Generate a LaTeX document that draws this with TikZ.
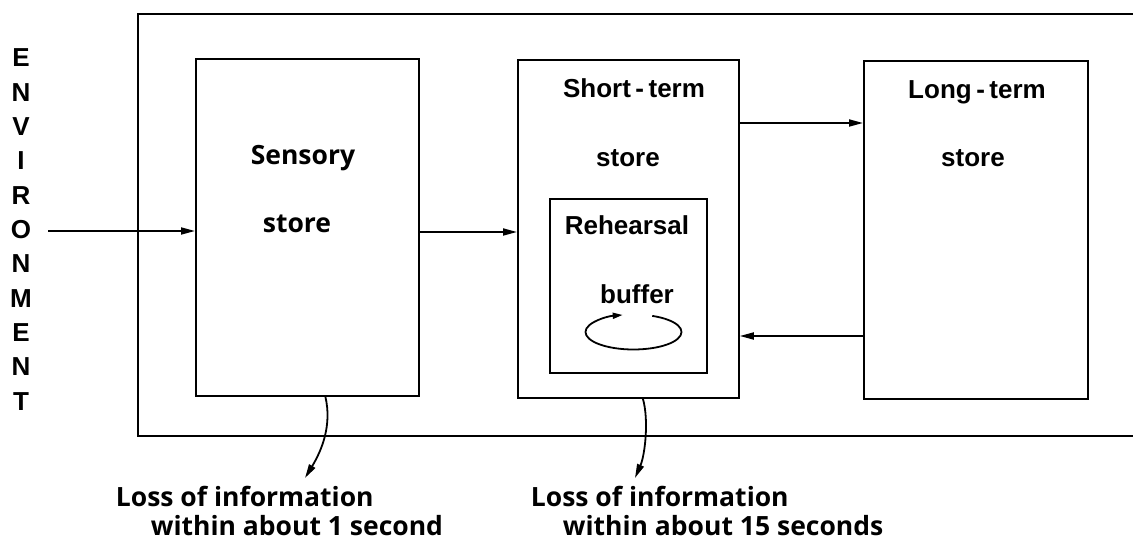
\documentclass[tikz,border=0pt]{standalone}
\usepackage{fontspec}
\setmainfont{Liberation Sans}
\newfontfamily\humfont{Open Sans}
\usetikzlibrary{arrows.meta,calc}
\newcommand{\hy}{\hspace{4.5bp}-\hspace{4.5bp}}

\begin{document}
\begin{tikzpicture}[x=1bp,y=-1bp,line width=1.8bp,
  store/.style={draw,rectangle,inner sep=0pt,anchor=north west},
  arr/.style={-{Triangle[length=14bp,width=7bp]}},
  loop/.style={-{Triangle[length=10bp,width=6bp]}},
  hlabel/.style={font=\fontsize{26bp}{30bp}\selectfont\bfseries,inner sep=0pt,anchor=base},
  slabel/.style={font=\humfont\fontsize{26.5bp}{30bp}\selectfont\bfseries,inner sep=0pt,anchor=base},
  envl/.style={font=\fontsize{26bp}{30bp}\selectfont\bfseries,inner sep=0pt,anchor=base}]
\useasboundingbox (0,0) rectangle (1133,544);

% frame open to the right
\draw (1133,14) -- (138,14) -- (138,436) -- (1133,436);

% stores
\node[store,minimum width=223bp,minimum height=337bp] (sens) at (195,58) {};
\node[store,minimum width=221bp,minimum height=338bp] (sts) at (517,59) {};
\node[store,minimum width=224bp,minimum height=338bp] (lts) at (863,60) {};
\node[store,minimum width=157bp,minimum height=174bp] (reh) at (549,198) {};

% labels
\node[slabel] (senst) at (303,165) {Sensory};
\node[slabel] (sensb) at (297,233) {store};
\node[hlabel] (stst) at (634,98) {Short\hy term};
\node[hlabel] (stsb) at (628,167) {store};
\node[hlabel] (reht) at (627,235) {Rehearsal};
\node[hlabel] (rehb) at (637,304) {buffer};
\node[hlabel] (ltst) at (977,99) {Long\hy term};
\node[hlabel] (ltsb) at (973,167) {store};

% environment
\foreach \l [count=\i] in {E,N,V,I,R,O,N,M,E,N,T}
  \node[envl] (env\i) at (21,{67+34.3*(\i-1)}) {\l};

% flow levels
\coordinate (src) at (48,231);
\coordinate (lvA) at (0,232);
\coordinate (lvB) at (0,123);
\coordinate (lvC) at (0,336);

\draw[arr] (src) -- (src -| sens.west);
\draw[arr] (sens.east |- lvA) -- (sts.west |- lvA);
\draw[arr] (sts.east |- lvB) -- (lts.west |- lvB);
\draw[arr] (lts.west |- lvC) -- (sts.east |- lvC);

% rehearsal loop
\coordinate (loopc) at (633.5,332);
\draw[loop] ($(loopc)+(-67:48 and 17.5)$) arc[start angle=-67,end angle=257,x radius=48,y radius=17.5];

% losses
\coordinate (lossA) at (305,478);
\coordinate (lossB) at (635,478);
\draw[arr] ([xshift=18bp]sens.south) .. controls (332,425) and (322,450) .. (lossA);
\draw[arr] ([xshift=14.5bp]sts.south) .. controls (649,420) and (645,455) .. (lossB);

\node[slabel,anchor=base west] (la1) at (115,506) {Loss of information};
\node[slabel,anchor=base west] (la2) at (150,535) {within about 1 second};
\node[slabel,anchor=base west] (lb1) at (530,506) {Loss of information};
\node[slabel,anchor=base west] (lb2) at (562,535) {within about 15 seconds};
\end{tikzpicture}
\end{document}
